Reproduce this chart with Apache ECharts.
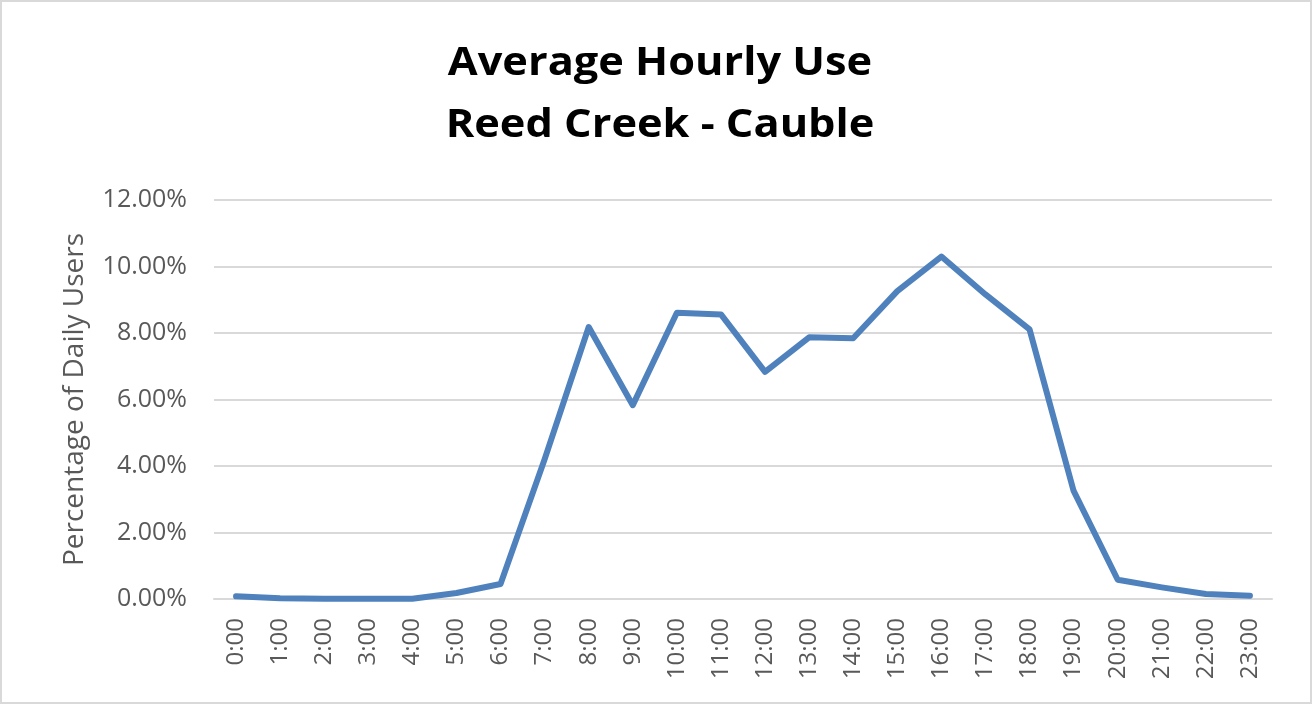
<!DOCTYPE html>
<html>
<head>
<meta charset="utf-8">
<script src="https://cdn.jsdelivr.net/npm/echarts@6/dist/echarts.min.js"></script>
<style>
html,body{margin:0;padding:0;background:#fff;}
#chart{width:1312px;height:704px;box-sizing:border-box;border:2px solid #d9d9d9;}
</style>
</head>
<body>
<div id="chart"></div>
<script>
const titleLines = ['Average Hourly Use', 'Reed Creek - Cauble'];
const yAxisName = 'Percentage of Daily Users';
const hours = ['0:00','1:00','2:00','3:00','4:00','5:00','6:00','7:00','8:00','9:00','10:00','11:00',
  '12:00','13:00','14:00','15:00','16:00','17:00','18:00','19:00','20:00','21:00','22:00','23:00'];
const pctUsers = [0.08,0.02,0.01,0.01,0.01,0.18,0.45,4.2,8.18,5.83,8.61,8.56,
  6.83,7.87,7.84,9.26,10.3,9.16,8.11,3.25,0.58,0.35,0.15,0.1];
const yMin = 0, yMax = 12, yStep = 2;

const chart = echarts.init(document.getElementById('chart'), null, {renderer:'canvas'});
const titleFont = 'bold 38.5px "Open Sans"';
chart.setOption({
  backgroundColor:'#fff',
  animation:false,
  graphic: titleLines.map((t, i) => ({
    type:'text', x:658, y:62.5 + i*61.5, scaleX:1.125, silent:true,
    style:{text:t, font:titleFont, fill:'#000', textAlign:'center', textVerticalAlign:'middle', verticalAlign:'middle'}
  })),
  grid:{left:212, right:38, top:198, bottom:103, containLabel:false},
  xAxis:{
    type:'category', data:hours, boundaryGap:true,
    axisLine:{show:true, lineStyle:{color:'#d9d9d9', width:2}},
    axisTick:{show:false},
    axisLabel:{rotate:90, color:'#595959', fontSize:24, fontFamily:'Open Sans', margin:19, interval:0}
  },
  yAxis:{
    type:'value', min:yMin, max:yMax, interval:yStep,
    name:yAxisName, nameLocation:'middle', nameGap:125, nameRotate:90,
    nameTextStyle:{color:'#595959', fontSize:28, fontFamily:'Open Sans'},
    axisLine:{show:false}, axisTick:{show:false},
    axisLabel:{color:'#595959', fontSize:25, fontFamily:'Open Sans', margin:27,
      formatter:v=>v.toFixed(2)+'%'},
    splitLine:{lineStyle:{color:'#d9d9d9', width:2}}
  },
  series:[{
    type:'line', data:pctUsers, showSymbol:false, symbol:'none',
    lineStyle:{color:'#4f81bd', width:6, cap:'round', join:'round'}
  }]
});
</script>
</body>
</html>
